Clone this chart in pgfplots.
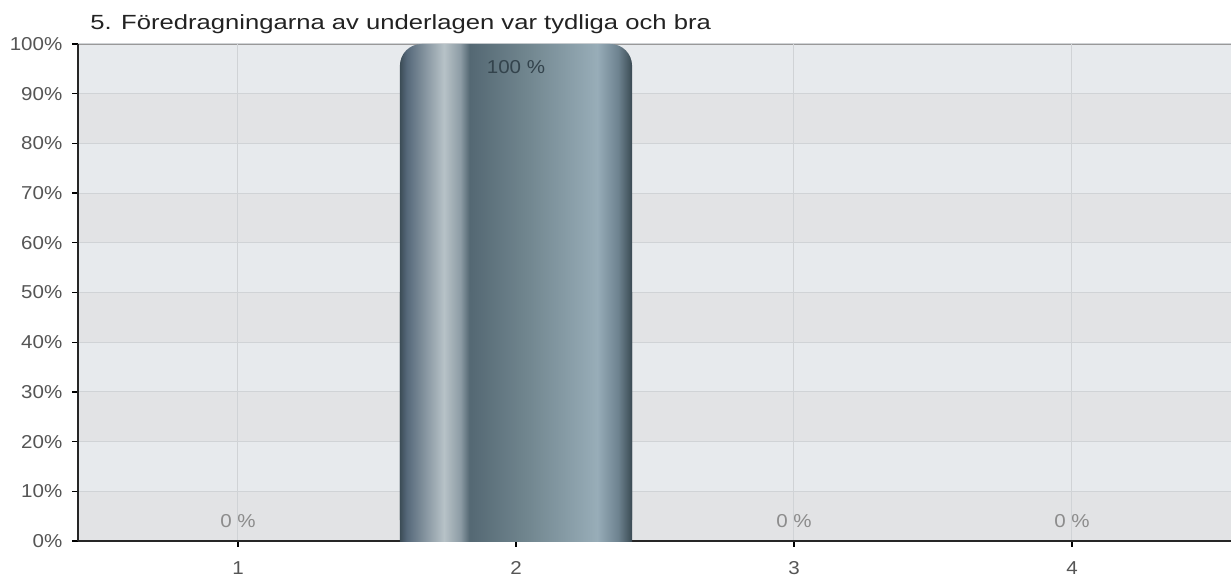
\documentclass[border=0pt]{standalone}
\usepackage{pgfplots}
\pgfplotsset{compat=1.18}
\usepackage{fontspec}
\setmainfont{Liberation Sans}[FakeStretch=1.1]
\newfontfamily\titlefont{Liberation Sans}[FakeStretch=1.25]
\definecolor{bandA}{HTML}{E7EAED}
\definecolor{bandB}{HTML}{E2E3E5}
\definecolor{gridc}{HTML}{D0D3D6}
\definecolor{tickc}{HTML}{555555}
\definecolor{titlec}{HTML}{222222}
\definecolor{labgray}{HTML}{8C8C8C}
\definecolor{labdark}{HTML}{33434C}
\definecolor{s0}{HTML}{3C4D57}
\definecolor{s1}{HTML}{56697A}
\definecolor{s2}{HTML}{B7C2C7}
\definecolor{s3}{HTML}{8D9CA5}
\definecolor{s4}{HTML}{546873}
\definecolor{s5}{HTML}{71868F}
\definecolor{s6}{HTML}{98ADB8}
\definecolor{s7}{HTML}{6E8390}
\definecolor{s8}{HTML}{3A4A53}
\pgfdeclarehorizontalshading{barshade}{100bp}{color(0bp)=(s0); color(25bp)=(s0); color(26.5bp)=(s1); color(34.5bp)=(s2); color(38bp)=(s3); color(40bp)=(s4); color(52.5bp)=(s5); color(67.5bp)=(s6); color(72bp)=(s7); color(75bp)=(s8); color(100bp)=(s8)}
\begin{document}
\begin{tikzpicture}
\begin{axis}[
  name=ax,
  set layers,
  scale only axis,
  width=691.8pt, height=298.2pt,
  xmin=0.4245, xmax=4.572,
  ymin=0, ymax=100,
  axis x line*=bottom, axis y line*=left,
  axis line style={color=black!85, line width=1.1pt, -},
  xtick={1,2,3,4},
  ytick={0,10,...,100},
  yticklabel={\pgfmathprintnumber{\tick}\%},
  /pgf/number format/assume math mode=true,
  tick label style={font=\fontsize{11.2}{13}\selectfont, text=tickc},
  yticklabel style={xshift=-2.4pt},
  xticklabel style={yshift=-5.4pt},
  tick align=outside,
  major tick length=3.5pt,
  tick style={color=black, line width=0.8pt},
  xmajorgrids, ymajorgrids,
  major grid style={color=gridc, line width=0.6pt},
  axis background/.style={fill=bandA},
  clip=false,
]
\begin{pgfonlayer}{axis background}
\fill[bandB] (rel axis cs:0,0) rectangle (rel axis cs:1,0.1);
\fill[bandB] (rel axis cs:0,0.2) rectangle (rel axis cs:1,0.3);
\fill[bandB] (rel axis cs:0,0.4) rectangle (rel axis cs:1,0.5);
\fill[bandB] (rel axis cs:0,0.6) rectangle (rel axis cs:1,0.7);
\fill[bandB] (rel axis cs:0,0.8) rectangle (rel axis cs:1,0.9);
\draw[color=black!40, line width=1.1pt] (rel axis cs:0,1) -- (rel axis cs:1,1);
\end{pgfonlayer}
\addplot[ybar, bar shift=0pt, bar width=0.835, draw=none, fill=none]
  coordinates {(1,0) (3,0) (4,0)};
\addplot[ybar, bar shift=0pt, bar width=0.835, draw=none, shading=barshade, rounded corners=13pt]
  coordinates {(2,100)};
\addplot[ybar, bar shift=0pt, bar width=0.835, draw=none, shading=barshade]
  coordinates {(2,50)};
\addplot[draw=none, mark=none, nodes near coords, point meta=explicit symbolic,
  every node near coord/.append style={anchor=center, text=labgray, font=\fontsize{11.2}{13}\selectfont}]
  coordinates {(1,4) [0 \%] (3,4) [0 \%] (4,4) [0 \%]};
\addplot[draw=none, mark=none, nodes near coords, point meta=explicit symbolic,
  every node near coord/.append style={anchor=center, text=labdark, font=\fontsize{11.2}{13}\selectfont}]
  coordinates {(2,95.3) [100 \%]};
\end{axis}
\node[anchor=base west, inner sep=0pt, text=titlec, font=\titlefont\fontsize{12.3}{14}\selectfont] at ([shift={(7.2pt,8.7pt)}]ax.north west) {5. Föredragningarna av underlagen var tydliga och bra};
\pgfresetboundingbox
\path ([shift={(-46.8pt,-24pt)}]ax.south west) rectangle ([shift={(0pt,26.4pt)}]ax.north east);
\end{tikzpicture}
\end{document}
